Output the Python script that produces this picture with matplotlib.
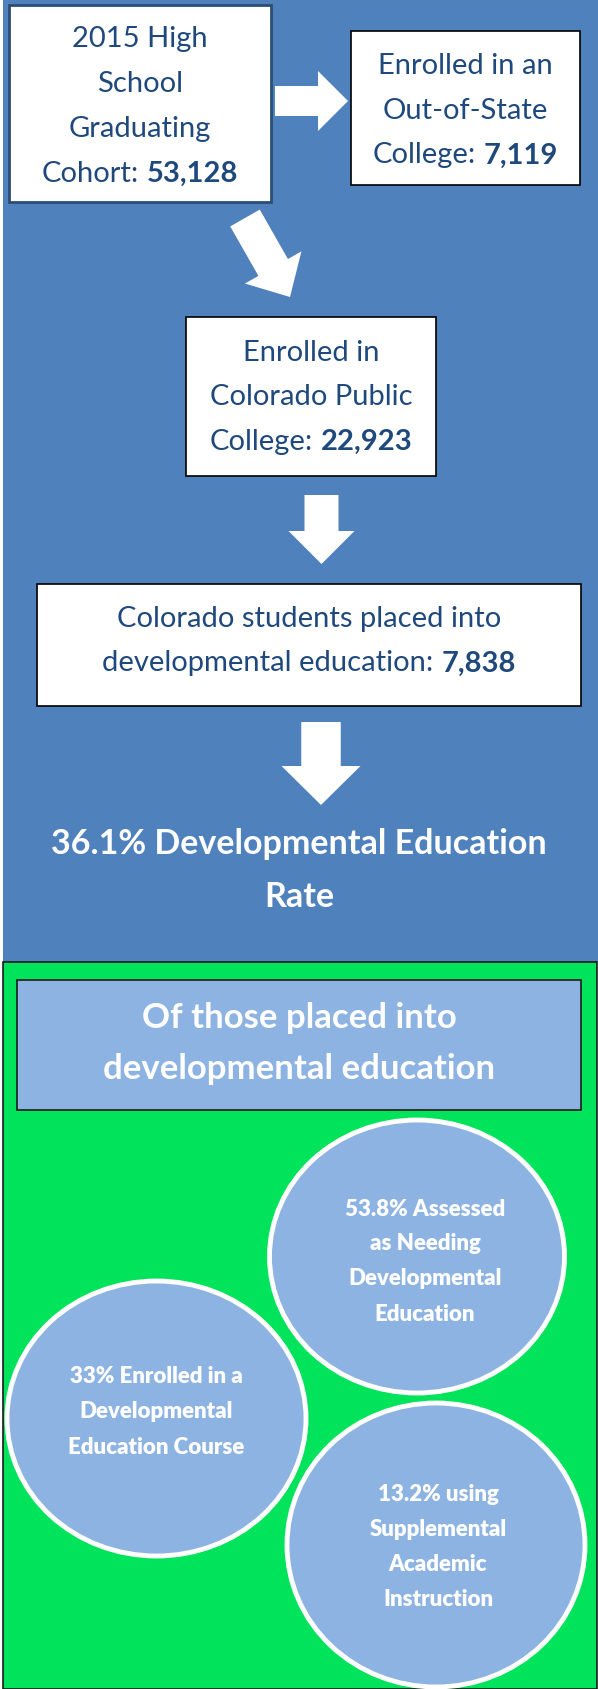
import matplotlib
matplotlib.use("Agg")
import matplotlib.pyplot as plt
from matplotlib.patches import Rectangle, Ellipse, FancyArrow

# values shown in the flow chart
cohort_total = 53128
out_of_state = 7119
co_public = 22923
dev_ed_placed = 7838
dev_ed_rate = 36.1

# breakdown of the students placed into developmental education
circle_pcts = [53.8, 33, 13.2]
circle_text = [
    ["{}% Assessed", "as Needing", "Developmental", "Education"],
    ["{}% Enrolled in a", "Developmental", "Education Course"],
    ["{}% using", "Supplemental", "Academic", "Instruction"],
]

BLUE_BG = "#4F81BD"
LIGHT = "#8DB3E2"
GREEN = "#00E35A"
NAVY = "#1F497D"

plt.rcParams["font.family"] = ["Lato", "DejaVu Sans"]

W, H = 598, 1690
fig = plt.figure(figsize=(W / 100, H / 100), dpi=100)
ax = fig.add_axes([0, 0, 1, 1])
ax.set_xlim(0, W)
ax.set_ylim(H, 0)
ax.axis("off")
renderer = fig.canvas.get_renderer()


def text_width(s, size, weight):
    t = ax.text(0, 0, s, fontsize=size, fontweight=weight)
    w = t.get_window_extent(renderer).width
    t.remove()
    return w


def put_line(cx, y, plain, bold=None, size=21, color=NAVY, weight="normal"):
    if bold is None:
        ax.text(cx, y, plain, fontsize=size, color=color, fontweight=weight,
                ha="center", va="baseline")
        return
    w1 = text_width(plain, size, weight)
    w2 = text_width(bold, size, "bold")
    sp = text_width("a a", size, weight) - text_width("aa", size, weight)
    x0 = cx - (w1 + sp + w2) / 2
    ax.text(x0, y, plain, fontsize=size, color=color, fontweight=weight,
            ha="left", va="baseline")
    ax.text(x0 + w1 + sp, y, bold, fontsize=size, color=color,
            fontweight="bold", ha="left", va="baseline")


def box(x0, y0, x1, y1, face="white", edge="black", lw=1.2):
    ax.add_patch(Rectangle((x0, y0), x1 - x0, y1 - y0, facecolor=face,
                           edgecolor=edge, linewidth=lw))


def arrow(x, y, dx, dy, width, head_w, head_l):
    ax.add_patch(FancyArrow(x, y, dx, dy, width=width, head_width=head_w,
                            head_length=head_l, length_includes_head=True,
                            color="white", linewidth=0))


# backgrounds
ax.add_patch(Rectangle((3, 0), W - 3, 963, facecolor=BLUE_BG, linewidth=0))
ax.add_patch(Rectangle((3, 963), W - 4.5, H - 963, facecolor=GREEN,
                       edgecolor="#1a1a1a", linewidth=1.2))

# box 1: cohort
box(8.5, 6, 271, 203, edge="#2C4D75", lw=2)
cx = 140
for y, s in zip([46.5, 92, 137], ["2015 High", "School", "Graduating"]):
    put_line(cx, y, s)
put_line(cx, 182, "Cohort:", f"{cohort_total:,}")

# box 2: out of state
box(351, 32, 580, 186)
cx = 465.5
put_line(cx, 74, "Enrolled in an")
put_line(cx, 119, "Out-of-State")
put_line(cx, 163.5, "College:", f"{out_of_state:,}")

# box 3: Colorado public
box(186, 318, 435.5, 477)
cx = 311
put_line(cx, 361, "Enrolled in")
put_line(cx, 405, "Colorado Public")
put_line(cx, 450, "College:", f"{co_public:,}")

# box 4: placed into dev ed
box(36.5, 585, 581, 707)
cx = 309
put_line(cx, 627, "Colorado students placed into")
put_line(cx, 671.5, "developmental education:", f"{dev_ed_placed:,}")

# arrows
arrow(275, 102, 73, 0, 30, 60, 30)
arrow(245, 219, 45, 79, 34, 65, 34)
arrow(321.5, 496, 0, 69, 34, 66, 33)
arrow(321, 723, 0, 83, 39.5, 79, 39)

# rate text
put_line(299, 854, f"{dev_ed_rate}% Developmental Education", size=24.5,
         color="white", weight="bold")
put_line(299, 907, "Rate", size=24.5, color="white", weight="bold")

# green panel title
box(17, 981, 581, 1110.5, face=LIGHT, edge="#1a1a1a", lw=1.2)
put_line(299, 1028, "Of those placed into", size=25, color="white",
         weight="bold")
put_line(299, 1079, "developmental education", size=25, color="white",
         weight="bold")

# circles
circles = [
    ((417, 1257.5), 295, 273, 425, [1216, 1250.5, 1285.5, 1321]),
    ((156.5, 1419.5), 299, 275, 156, [1383, 1418, 1454]),
    ((436, 1546), 298, 284, 438, [1501.5, 1536.5, 1571.5, 1606.5]),
]
for (center, w, h, tx, ys), pct, lines in zip(circles, circle_pcts, circle_text):
    ax.add_patch(Ellipse(center, w, h, facecolor=LIGHT, edgecolor="white",
                         linewidth=3.5))
    label = [lines[0].format(f"{pct:g}")] + lines[1:]
    for y, s in zip(ys, label):
        put_line(tx, y, s, size=16, color="white", weight="heavy")

fig.savefig("out.png", dpi=100)
